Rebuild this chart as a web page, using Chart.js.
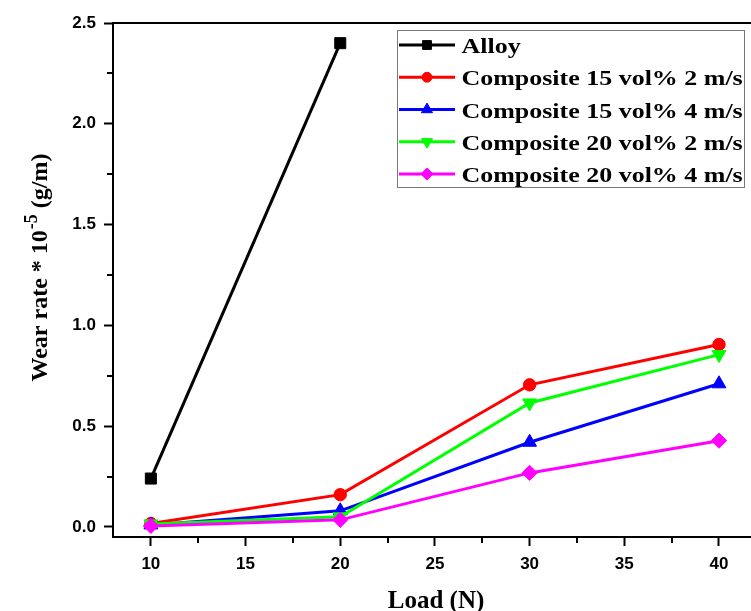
<!DOCTYPE html>
<html>
<head>
<meta charset="utf-8">
<script src="https://cdn.jsdelivr.net/npm/chart.js@4.4.1/dist/chart.umd.min.js"></script>
<style>
  html, body { margin: 0; padding: 0; background: #fff; overflow: hidden; }
  canvas { display: block; }
</style>
</head>
<body>
<!-- the frame runs off the right edge, so the canvas is a little wider than the view -->
<canvas id="c" width="760" height="611"></canvas>
<script>
// Applied load (N)
const loads = [10, 20, 30, 40];

// Wear rate * 10^-5 (g/m) for each material / sliding speed
const seriesLabels = [
  'Alloy',
  'Composite 15 vol% 2 m/s',
  'Composite 15 vol% 4 m/s',
  'Composite 20 vol% 2 m/s',
  'Composite 20 vol% 4 m/s'
];
const alloy = [0.24, 2.40];
const comp15at2 = [0.017, 0.16, 0.705, 0.905];
const comp15at4 = [0.010, 0.08, 0.42, 0.71];
const comp20at2 = [0.015, 0.05, 0.615, 0.855];
const comp20at4 = [0.005, 0.035, 0.268, 0.428];

// Axis ticks
const xMajorTicks = [10, 15, 20, 25, 30, 35, 40];
const xMinorTicks = [12.5, 17.5, 22.5, 27.5, 32.5, 37.5];
const yMajorTicks = [0.0, 0.5, 1.0, 1.5, 2.0, 2.5];
const yMinorTicks = [0.25, 0.75, 1.25, 1.75, 2.25];

const seriesValues = [alloy, comp15at2, comp15at4, comp20at2, comp20at4];
const colors = ['#000000', '#ff0000', '#0000ff', '#00ff00', '#ff00ff'];
const styles = [
  { pointStyle: 'rect', radius: 7.8, rotation: 0 },
  { pointStyle: 'circle', radius: 6.2, rotation: 0 },
  { pointStyle: 'triangle', radius: 8, rotation: 0 },
  { pointStyle: 'triangle', radius: 8, rotation: 180 },
  { pointStyle: 'rectRot', radius: 7.6, rotation: 0 }
];

const datasets = seriesValues.map((vals, i) => ({
  label: seriesLabels[i],
  data: vals.map((v, k) => ({ x: loads[k], y: v })),
  borderColor: colors[i],
  backgroundColor: colors[i],
  borderWidth: 3,
  pointStyle: styles[i].pointStyle,
  pointRadius: styles[i].radius,
  pointRotation: styles[i].rotation,
  pointBackgroundColor: colors[i],
  pointBorderColor: colors[i],
  pointBorderWidth: 1,
  fill: false,
  tension: 0,
  order: seriesValues.length - 1 - i
}));

const serif = '"Liberation Serif", "Times New Roman", serif';
const sans = '"Liberation Sans", Arial, sans-serif';

// Frame top line, minor ticks, axis titles and the boxed legend
const decorations = {
  id: 'decorations',
  afterDraw(chart) {
    const ctx = chart.ctx;
    const a = chart.chartArea;
    const xs = chart.scales.x, ys = chart.scales.y;
    ctx.save();
    ctx.strokeStyle = '#000';
    ctx.lineWidth = 2;
    ctx.beginPath();
    ctx.moveTo(a.left - 1, a.top);
    ctx.lineTo(a.right, a.top);
    ctx.stroke();

    // minor ticks
    ctx.beginPath();
    xMinorTicks.forEach(v => {
      const px = Math.round(xs.getPixelForValue(v));
      ctx.moveTo(px, a.bottom);
      ctx.lineTo(px, a.bottom + 6);
    });
    yMinorTicks.forEach(v => {
      const py = Math.round(ys.getPixelForValue(v));
      ctx.moveTo(a.left, py);
      ctx.lineTo(a.left - 6, py);
    });
    ctx.stroke();

    // x title
    ctx.fillStyle = '#000';
    ctx.font = 'bold 25px ' + serif;
    ctx.textAlign = 'center';
    ctx.textBaseline = 'alphabetic';
    ctx.fillText('Load (N)', 436, 608);

    // y title with superscript exponent
    const mainFont = 'bold 24px ' + serif;
    const supFont = 'bold 18px ' + serif;
    const p1 = 'Wear rate * 10', p2 = '-5', p3 = ' (g/m)';
    ctx.font = mainFont;
    const w1 = ctx.measureText(p1).width, w3 = ctx.measureText(p3).width;
    ctx.font = supFont;
    const w2 = ctx.measureText(p2).width;
    const total = w1 + w2 + w3;
    ctx.save();
    ctx.translate(47, 268);
    ctx.rotate(-Math.PI / 2);
    ctx.textAlign = 'left';
    let x0 = -total / 2;
    ctx.font = mainFont;
    ctx.fillText(p1, x0, 0);
    ctx.font = supFont;
    ctx.fillText(p2, x0 + w1 + 1, -10);
    ctx.font = mainFont;
    ctx.fillText(p3, x0 + w1 + w2 + 1, 0);
    ctx.restore();

    // legend
    const box = { x: 397.5, y: 30.5, w: 347, h: 157 };
    ctx.fillStyle = '#fff';
    ctx.fillRect(box.x, box.y, box.w, box.h);
    ctx.strokeStyle = '#777';
    ctx.lineWidth = 1;
    ctx.strokeRect(box.x, box.y, box.w, box.h);
    chart.data.datasets.forEach((ds, i) => {
      const cy = 45 + i * 32.25;
      ctx.strokeStyle = ds.borderColor;
      ctx.fillStyle = ds.borderColor;
      ctx.lineWidth = 3;
      ctx.beginPath();
      ctx.moveTo(399, cy);
      ctx.lineTo(455, cy);
      ctx.stroke();
      ctx.lineWidth = 1;
      Chart.helpers.drawPoint(ctx, {
        pointStyle: ds.pointStyle,
        rotation: ds.pointRotation,
        radius: ds.pointRadius * 0.8,
        borderWidth: 1
      }, 427, cy);
      ctx.fillStyle = '#000';
      ctx.font = 'bold 22px ' + serif;
      ctx.textAlign = 'left';
      ctx.textBaseline = 'alphabetic';
      ctx.save();
      ctx.translate(461.5, cy + 8);
      ctx.scale(1.18, 1);
      ctx.fillText(ds.label, 0, 0);
      ctx.restore();
    });
    ctx.restore();
  }
};

new Chart(document.getElementById('c'), {
  type: 'line',
  data: { datasets },
  options: {
    responsive: false,
    animation: false,
    events: [],
    layout: { padding: { top: 23, right: 0, left: 0, bottom: 0 } },
    plugins: { legend: { display: false }, tooltip: { enabled: false } },
    scales: {
      x: {
        type: 'linear',
        min: 8,
        max: 41.69,
        afterFit(s) { s.height = 74; s.paddingLeft = 0; s.paddingRight = 0; },
        afterBuildTicks(s) { s.ticks = xMajorTicks.map(v => ({ value: v })); },
        ticks: {
          autoSkip: false,
          maxRotation: 0,
          color: '#000',
          padding: 8,
          font: { family: sans, weight: 'bold', size: 17 },
          callback: v => String(v)
        },
        grid: { drawOnChartArea: false, drawTicks: true, tickLength: 9, tickWidth: 2, tickColor: '#000' },
        border: { display: true, color: '#000', width: 2 }
      },
      y: {
        type: 'linear',
        min: -0.05,
        max: 2.5,
        afterFit(s) { s.width = 113; s.paddingTop = 0; s.paddingBottom = 0; },
        afterBuildTicks(s) { s.ticks = yMajorTicks.map(v => ({ value: v })); },
        ticks: {
          autoSkip: false,
          color: '#000',
          padding: 8,
          font: { family: sans, weight: 'bold', size: 17 },
          callback: v => Number(v).toFixed(1)
        },
        grid: { drawOnChartArea: false, drawTicks: true, tickLength: 9, tickWidth: 2, tickColor: '#000' },
        border: { display: true, color: '#000', width: 2 }
      }
    }
  },
  plugins: [decorations]
});
</script>
</body>
</html>
